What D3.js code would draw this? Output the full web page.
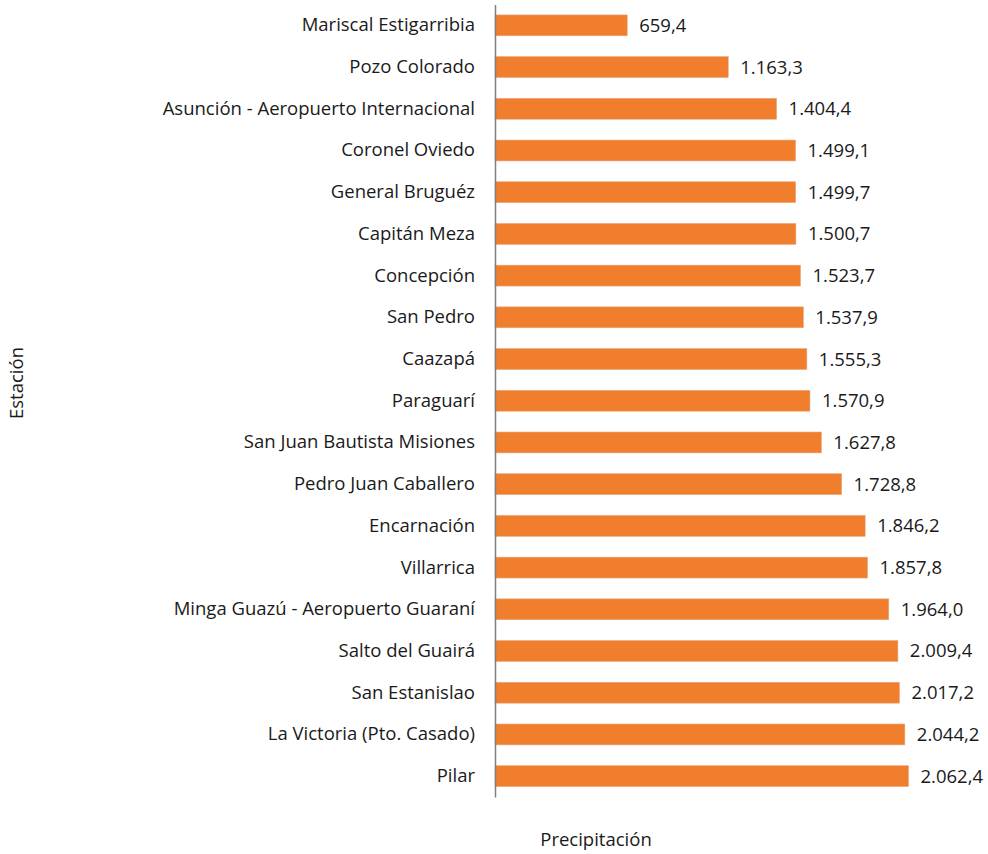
<!DOCTYPE html>
<html lang="es">
<head>
<meta charset="UTF-8">
<title>Precipitación por estación</title>
<script src="https://d3js.org/d3.v7.min.js"></script>
<style>
    body { margin: 0; background: #fff; }
    svg text { font-family: 'Open Sans', sans-serif; fill: #1a1a1a; }
</style>
</head>
<body>
<div id="chart"></div>
<script>
    // station names, top to bottom
    const stations = [
        "Mariscal Estigarribia", "Pozo Colorado", "Asunción - Aeropuerto Internacional",
        "Coronel Oviedo", "General Bruguéz", "Capitán Meza", "Concepción", "San Pedro",
        "Caazapá", "Paraguarí ", "San Juan Bautista Misiones", "Pedro Juan Caballero",
        "Encarnación", "Villarrica", "Minga Guazú - Aeropuerto Guaraní", "Salto del Guairá",
        "San Estanislao", "La Victoria (Pto. Casado)", "Pilar"
    ];
    // yearly precipitation (mm)
    const precip = [
        659.4, 1163.3, 1404.4, 1499.1, 1499.7, 1500.7, 1523.7, 1537.9, 1555.3, 1570.9,
        1627.8, 1728.8, 1846.2, 1857.8, 1964.0, 2009.4, 2017.2, 2044.2, 2062.4
    ];

    const width = 988, height = 854;
    const plotLeft = 495, plotTop = 4.5, plotBottom = 797;
    const fontSize = 18.5;

    const svg = d3.select("#chart").append("svg")
        .attr("width", width).attr("height", height);

    const x = d3.scaleLinear().domain([0, d3.max(precip)]).range([plotLeft, plotLeft + 413.5]);
    const y = d3.scaleBand().domain(stations).range([plotTop, plotBottom]).padding(0.5).paddingOuter(0.25);

    const fmt = v => {
        const s = v.toFixed(1).split(".");
        return s[0].replace(/\B(?=(\d{3})+(?!\d))/g, ".") + "," + s[1];
    };

    // bars
    svg.selectAll("rect.bar").data(stations).join("rect")
        .attr("class", "bar")
        .attr("x", x(0))
        .attr("y", d => y(d))
        .attr("width", (d, i) => x(precip[i]) - x(0))
        .attr("height", y.bandwidth())
        .attr("fill", "#F07E2C")
        .attr("stroke", "#E7A57A")
        .attr("stroke-width", 0.6);

    // value labels
    svg.selectAll("text.val").data(stations).join("text")
        .attr("class", "val")
        .attr("x", (d, i) => x(precip[i]) + 12)
        .attr("y", d => y(d) + y.bandwidth() / 2)
        .attr("dy", "0.35em")
        .attr("font-size", fontSize)
        .text((d, i) => fmt(precip[i]));

    // category axis
    const yAxis = svg.append("g")
        .attr("transform", `translate(${plotLeft},0)`)
        .call(d3.axisLeft(y).tickSize(0).tickPadding(20));
    yAxis.select(".domain").attr("stroke", "#808080").attr("stroke-width", 1.5);
    yAxis.selectAll(".tick text")
        .attr("font-size", fontSize)
        .attr("font-family", "'Open Sans', sans-serif")
        .attr("fill", "#1a1a1a");

    // axis titles
    svg.append("text")
        .attr("x", 596).attr("y", 846)
        .attr("text-anchor", "middle")
        .attr("font-size", fontSize)
        .text("Precipitación");

    svg.append("text")
        .attr("transform", "translate(23,383) rotate(-90)")
        .attr("text-anchor", "middle")
        .attr("font-size", fontSize)
        .text("Estación");
</script>
</body>
</html>
